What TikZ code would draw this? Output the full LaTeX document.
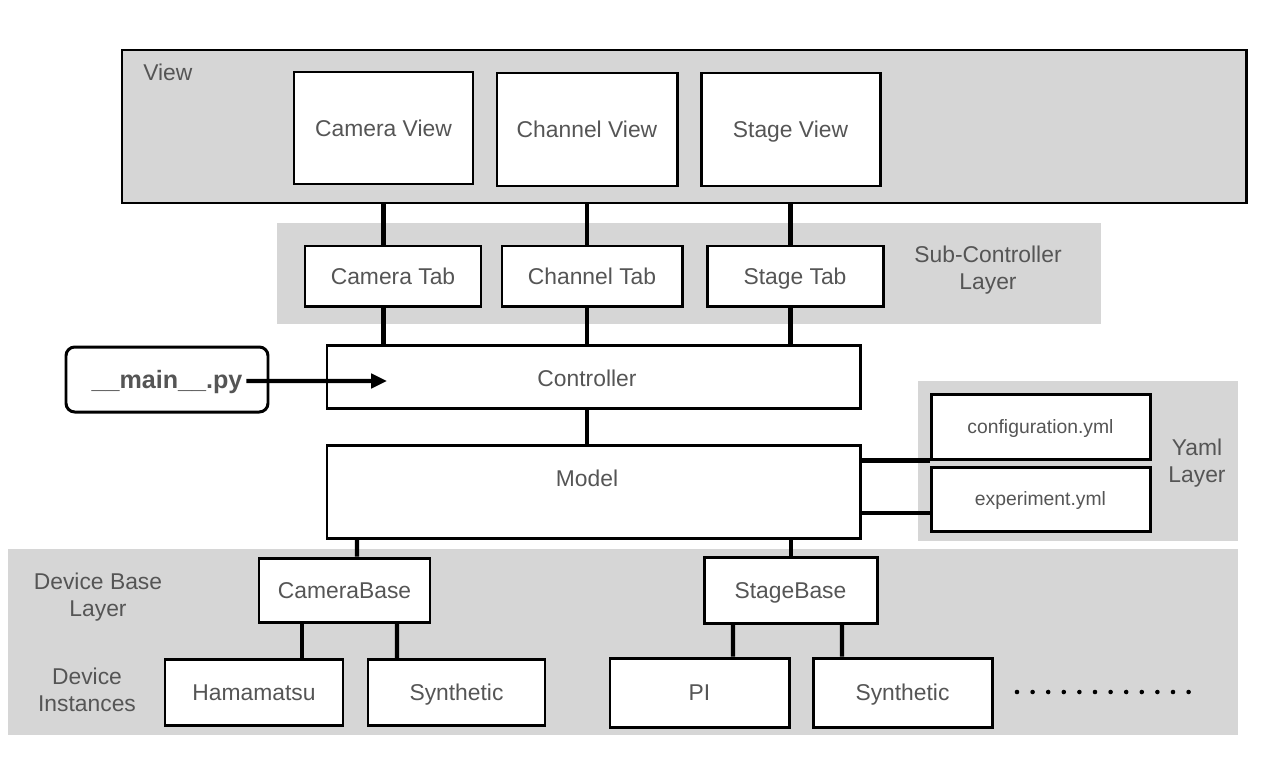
\documentclass[tikz,border=0pt]{standalone}
\usepackage{fontspec}
\setmainfont{Liberation Sans}
\usetikzlibrary{arrows.meta}
\definecolor{layergray}{HTML}{D6D6D6}
\definecolor{txtgray}{HTML}{555555}
\begin{document}
\begin{tikzpicture}[x=0.02cm,y=-0.02cm,
  box/.style={draw=black,line width=1.7pt,fill=white,inner sep=0pt,text=txtgray,font=\fontsize{13}{15.5}\selectfont,text height=9.3pt,text depth=0pt},
  smallbox/.style={box,font=\fontsize{11}{13}\selectfont,text height=7.9pt,text depth=0pt},
  layer/.style={fill=layergray,draw=none},
  layertxt/.style={text=txtgray,font=\fontsize{13}{15.5}\selectfont,align=center,inner sep=0pt},
  conn/.style={line width=2.3pt},
  dotc/.style={fill=black,draw=none}]
\useasboundingbox (0,0) rectangle (1275,758);
% layers
\node[draw=black,line width=1.7pt,fill=layergray,minimum width={1124*0.02cm},minimum height={153*0.02cm},inner sep=0pt] (view) at (684,126.5) {};
\node[layertxt,anchor=west] (viewlbl) at (143,72) {View};
\fill[layer] (277,223) rectangle (1101,324);
\fill[layer] (918,381) rectangle (1238,541);
\fill[layer] (8,549) rectangle (1238,735);
% labels
\node[layertxt] (sublbl) at (988,270) {Sub-Controller\\Layer};
\node[layertxt] (yamllbl) at (1197,463) {Yaml\\Layer};
\node[layertxt] (devbaselbl) at (98,597) {Device Base\\Layer};
\node[layertxt] (devinstlbl) at (87,690) {Device\\Instances};
% view boxes
\node[box,minimum width={179*0.02cm},minimum height={112*0.02cm}] (camview) at (383.5,128) {Camera View};
\node[box,minimum width={180*0.02cm},minimum height={113*0.02cm}] (chview) at (587,129.5) {Channel View};
\node[box,minimum width={179*0.02cm},minimum height={113*0.02cm}] (stview) at (790.5,129.5) {Stage View};
% tabs
\node[box,minimum width={176*0.02cm},minimum height={60*0.02cm}] (camtab) at (393,276) {Camera Tab};
\node[box,minimum width={180*0.02cm},minimum height={60*0.02cm}] (chtab) at (592,276) {Channel Tab};
\node[box,minimum width={176*0.02cm},minimum height={60*0.02cm}] (sttab) at (795,276) {Stage Tab};
% controller, model
\node[box,minimum width={533*0.02cm},minimum height={63*0.02cm}] (ctrl) at (593.5,376.5) {};
\node[text=txtgray,font=\fontsize{13}{15.5}\selectfont,text height=9.3pt,text depth=0pt,inner sep=0pt] (ctrltxt) at (587,378) {Controller};
\node[box,minimum width={533*0.02cm},minimum height={93*0.02cm}] (model) at (593.5,491.5) {};
\node[text=txtgray,font=\fontsize{13}{15.5}\selectfont,text height=9.3pt,text depth=0pt,inner sep=0pt] (modeltxt) at (587,478) {Model};
\node[box,rounded corners=5pt,minimum width={202*0.02cm},minimum height={65*0.02cm},font=\fontsize{14.3}{16}\selectfont\bfseries,text height=10.2pt] (main) at (167,379.5) {\_\_main\_\_.py};
\coordinate (arrowend) at (387,381);
% yaml
\node[smallbox,minimum width={219*0.02cm},minimum height={65*0.02cm}] (config) at (1040.5,426.5) {configuration.yml};
\node[smallbox,minimum width={219*0.02cm},minimum height={64*0.02cm}] (exper) at (1040.5,499) {experiment.yml};
% device base
\node[box,minimum width={171*0.02cm},minimum height={64*0.02cm}] (cambase) at (344.5,590) {CameraBase};
\node[box,minimum width={173*0.02cm},minimum height={66*0.02cm}] (stbase) at (790.5,590) {StageBase};
% instances
\node[box,minimum width={178*0.02cm},minimum height={66*0.02cm}] (hama) at (254,692.5) {Hamamatsu};
\node[box,minimum width={177*0.02cm},minimum height={66*0.02cm}] (synth1) at (456.5,692.5) {Synthetic};
\node[box,minimum width={179*0.02cm},minimum height={69*0.02cm}] (pi) at (699.5,692.5) {PI};
\node[box,minimum width={179*0.02cm},minimum height={69*0.02cm}] (synth2) at (902.5,692.5) {Synthetic};
% connectors
\draw[conn] (view.south -| camview) -- (camtab.north -| camview);
\draw[conn] (view.south -| chview) -- (chtab.north -| chview);
\draw[conn] (view.south -| stview) -- (sttab.north -| stview);
\draw[conn] (camtab.south -| camview) -- (ctrl.north -| camview);
\draw[conn] (chtab.south -| chview) -- (ctrl.north -| chview);
\draw[conn] (sttab.south -| stview) -- (ctrl.north -| stview);
\draw[conn] (ctrl.south -| ctrltxt) -- (model.north -| ctrltxt);
\draw[conn,-{Triangle[length=9pt,width=8pt]}] ([xshift={-23*0.02cm},yshift={-1.5*0.02cm}]main.east) -- (arrowend);
\draw[conn] (model.east |- config.south) -- (config.south west);
\draw[conn] ([yshift={-14*0.02cm}]exper.west -| model.east) -- ([yshift={-14*0.02cm}]exper.west);
\draw[conn] ([xshift={-236.5*0.02cm}]model.south) -- ([xshift={12.5*0.02cm}]cambase.north);
\draw[conn] ([xshift={197.5*0.02cm}]model.south) -- ([xshift={0.5*0.02cm}]stbase.north);
\draw[conn] ([xshift={-42.5*0.02cm}]cambase.south) -- ([xshift={48*0.02cm}]hama.north);
\draw[conn] ([xshift={52.5*0.02cm}]cambase.south) -- ([xshift={-59.5*0.02cm}]synth1.north);
\draw[conn] ([xshift={-57.5*0.02cm}]stbase.south) -- ([xshift={33.5*0.02cm}]pi.north);
\draw[conn] ([xshift={51.5*0.02cm}]stbase.south) -- ([xshift={-60.5*0.02cm}]synth2.north);
% dots
\foreach \i in {0,...,11} { \fill[dotc] (1017+\i*15.6,692) circle (1.3pt); }
\end{tikzpicture}
\end{document}
